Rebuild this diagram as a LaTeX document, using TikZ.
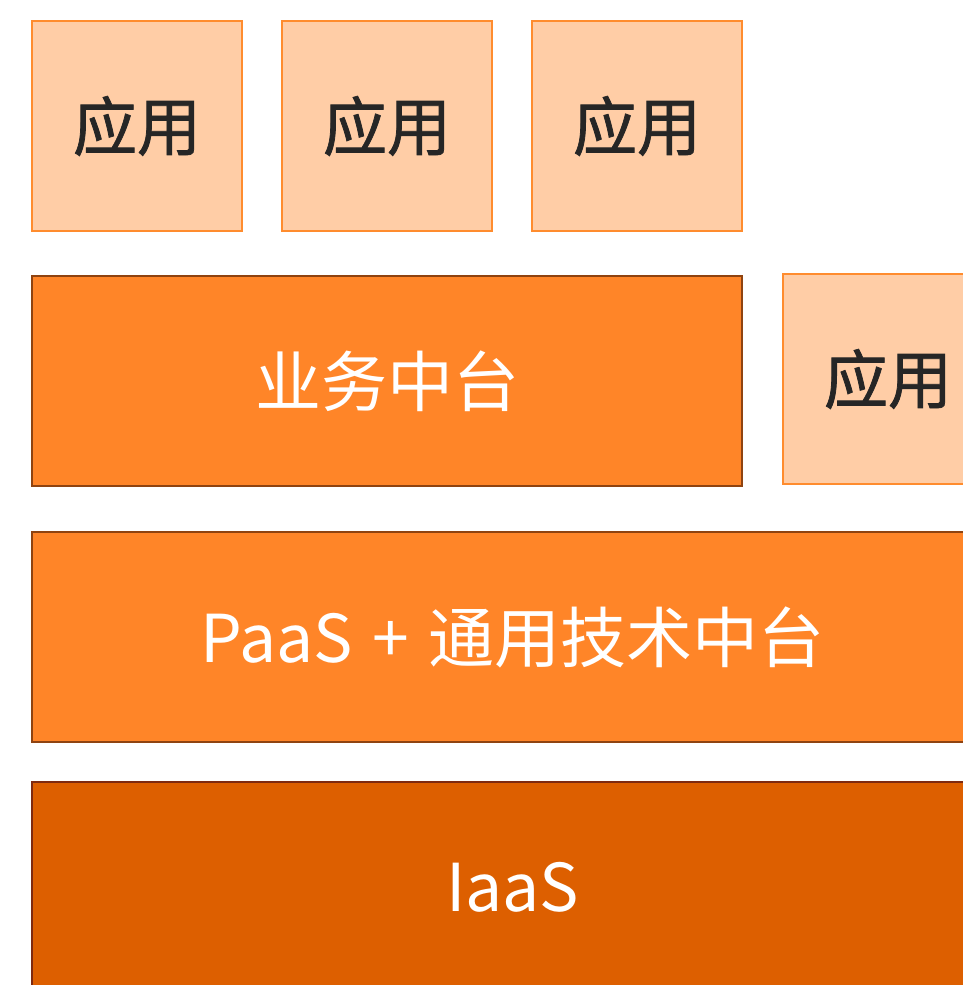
\documentclass[tikz,border=0pt]{standalone}
\usepackage{fontspec}
\setmainfont{Noto Sans CJK SC}
\newfontfamily\appFont[FakeBold=1.2]{Noto Sans CJK SC}
\usetikzlibrary{positioning}

\definecolor{appFill}{HTML}{FFCDA6}
\definecolor{appLine}{HTML}{FF8C2E}
\definecolor{midFill}{HTML}{FF8528}
\definecolor{midLine}{HTML}{8F4310}
\definecolor{baseFill}{HTML}{DD5F00}
\definecolor{baseLine}{HTML}{7F2A10}
\definecolor{appText}{HTML}{262626}

\def \boxSize {210pt}
\def \wideSize {710pt}
\def \fullSize {961pt}

\begin{document}
\begin{tikzpicture}[x=1pt, y=-1pt,
      app/.style={draw=appLine, fill=appFill, line width=2pt, text=appText,
         minimum width=\boxSize, minimum height=\boxSize, inner sep=0pt, anchor=north west,
         font=\fontsize{64}{70}\appFont},
      layer/.style={draw=midLine, fill=midFill, line width=2pt, text=white,
         minimum height=\boxSize, inner sep=0pt, anchor=north west,
         font=\fontsize{66}{72}\selectfont},
      base/.style={layer, draw=baseLine, fill=baseFill}]

      \useasboundingbox (0,0) rectangle (963,985);
      \clip (0,0) rectangle (963,985);

      % top row of apps
      \node[app] (appA) at (31,20) {应用};
      \node[app] (appB) at (281,20) {应用};
      \node[app] (appC) at (531,20) {应用};

      % business layer
      \node[layer, minimum width=\wideSize] (biz) at (31,275) {业务中台};
      \node[app] (appD) at (782,273) {应用};

      % platform layers
      \node[layer, minimum width=\fullSize] (paas) at (31,531) {PaaS\hspace{0.29em}+\hspace{0.29em}通用技术中台};
      \node[base, minimum width=\fullSize] (iaas) at (31,781) {IaaS};

   \end{tikzpicture}
\end{document}
